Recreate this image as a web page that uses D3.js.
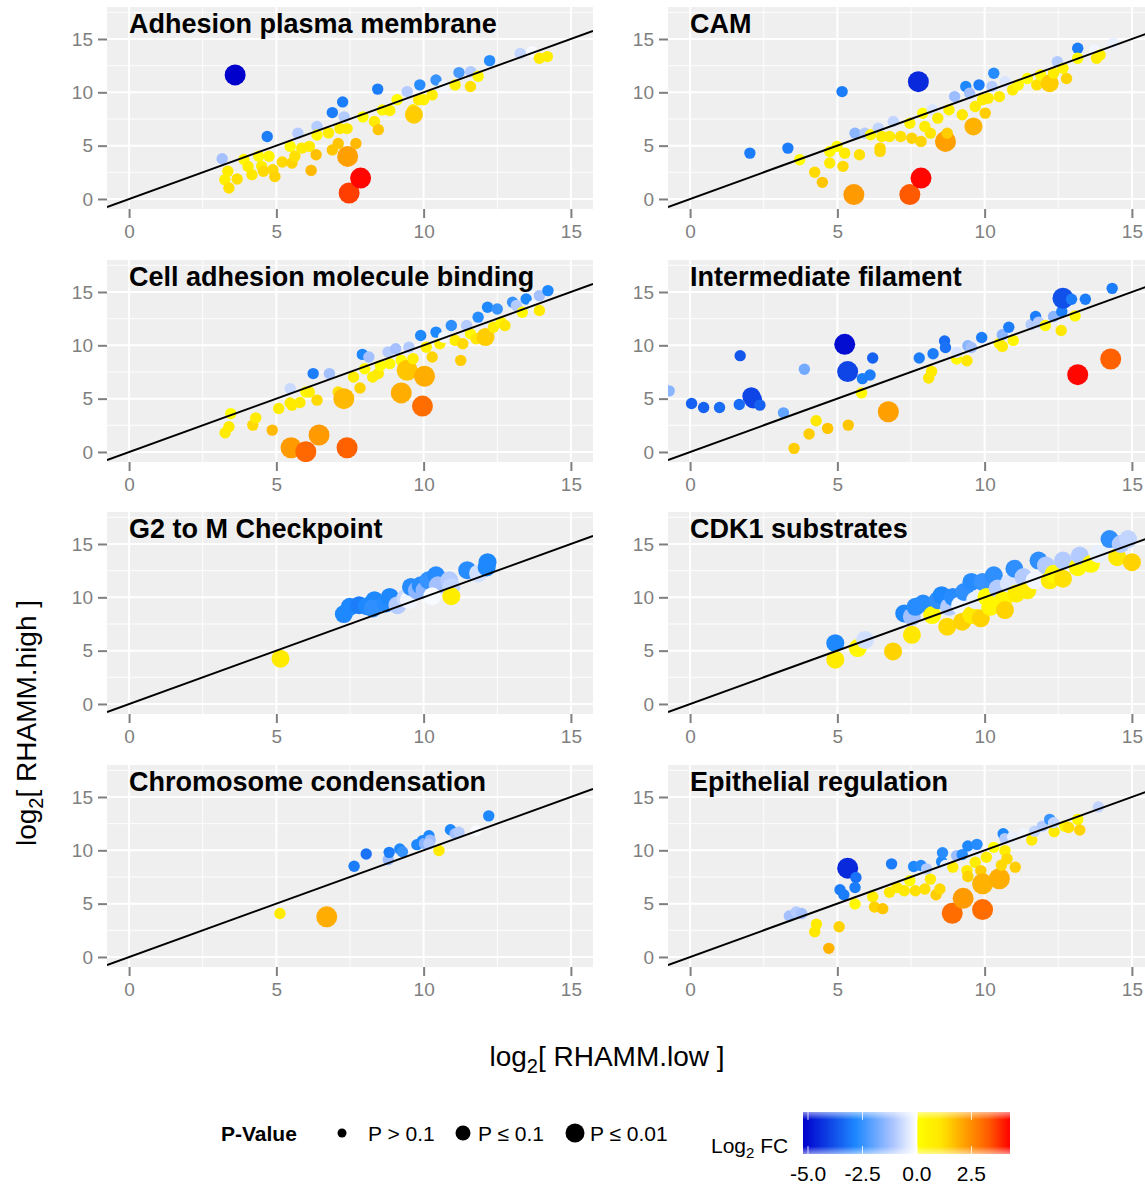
<!DOCTYPE html>
<html>
<head>
<meta charset="utf-8">
<script src="https://cdn.jsdelivr.net/npm/d3@7"></script>
<style>
body { margin: 0; background: #fff; }
text { font-family: "Liberation Sans", Arial, Helvetica, sans-serif; }
</style>
</head>
<body>
<svg id="chart" width="1145" height="1185"></svg>
<script>
// panel titles, in facet order (row by row)
const panelNames = ["Adhesion plasma membrane", "CAM", "Cell adhesion molecule binding",
  "Intermediate filament", "G2 to M Checkpoint", "CDK1 substrates",
  "Chromosome condensation", "Epithelial regulation"];

// each point: [log2 RHAMM.low, log2 RHAMM.high, log2 FC, p-value class]
// p class: 0 = P > 0.1, 1 = P <= 0.1, 2 = P <= 0.01
const adhesionPM = [
  [3.16,3.77,-1.2,0],[3.6,11.63,-5.5,2],[4.69,5.86,-3,0],[3.35,2.6,0.8,0],[3.25,1.8,0.7,0],
  [3.39,1.03,1.2,0],[3.67,1.87,1.2,0],[3.9,3.7,0.3,0],[4.04,3.05,0.8,0],[4.17,2.28,1.0,0],
  [4.4,4.0,0.3,0],[4.5,3.06,0.8,0],[4.56,2.6,1.3,0],[4.75,4.0,0.5,0],[4.88,2.74,1.3,0],
  [4.95,2.1,1.4,0],[5.2,3.46,1.3,0],[5.47,4.93,0.2,0],[5.53,3.37,1.4,0],[5.63,4.0,1.2,0],
  [5.73,6.17,-1,0],[5.86,4.77,0.9,0],[6.12,4.93,0.9,0],[6.18,2.68,1.8,0],[6.35,4.15,1.7,0],
  [6.38,6.8,-1,0],[6.38,6.0,0.3,0],[6.77,6.2,0.8,0],[6.9,4.6,1.6,0],[6.9,8.1,-3,0],
  [7.1,5.2,1.6,0],[7.25,9.1,-3,0],[7.16,6.6,0.9,0],[7.3,7.7,-1,0],[7.4,6.6,0.9,0],
  [7.42,3.99,2.2,2],[7.7,5.2,1.8,0],[7.47,0.56,3.6,2],[7.86,1.96,4.2,2],[7.94,7.7,0.1,0],
  [8.33,7.26,0.9,0],[8.46,6.5,1.6,0],[8.44,10.3,-3,0],[8.6,8.35,0.3,0],[8.85,8.3,0.7,0],
  [9.1,9.3,0.1,0],[9.44,10.07,-1,0],[9.64,8.36,1.0,0],[9.67,7.9,1.5,1],[9.83,9.3,0.9,0],
  [9.87,10.7,-2.7,0],[10.0,9.3,0.6,0],[10.29,9.76,0.8,0],[10.42,11.16,-2.5,0],[10.68,10.6,-0.2,0],
  [11.07,10.7,0.6,0],[11.2,11.85,-2.3,0],[11.59,10.54,1.2,0],[11.6,11.94,-1,0],[11.85,11.5,0.3,0],
  [12.24,12.97,-2.7,0],[13.28,13.65,-0.8,0],[13.67,13.8,-0.1,0],[13.93,13.2,0.9,0],[14.2,13.35,0.8,0]
];
const cam = [
  [2.03,4.3,-3,0],[3.32,4.77,-3,0],[3.72,3.68,0.1,0],[4.23,2.5,1.3,0],[4.49,1.56,1.6,0],
  [4.74,3.37,0.9,0],[4.74,4.46,0.3,0],[4.99,4.93,0.2,0],[5.19,3.06,1.3,0],[5.25,4.3,0.9,0],
  [5.16,10.07,-3,0],[5.56,0.41,2.3,2],[5.6,6.17,-1.5,0],[5.75,4.15,1.2,0],[5.94,6.17,-1,0],
  [6.13,6.02,0.3,0],[6.39,6.64,-0.8,0],[6.45,4.77,1.3,0],[6.45,4.46,1.3,0],[6.51,5.86,0.8,0],
  [6.77,5.86,0.9,0],[6.9,7.27,-0.8,0],[7.15,5.86,1.2,0],[7.46,7.1,0.6,0],[7.53,5.7,1.4,0],
  [7.46,0.41,3.3,2],[7.75,11.0,-4.5,2],[7.84,1.96,4.2,2],[7.84,5.4,1.4,0],[7.9,8.04,0.1,0],
  [7.97,6.8,0.8,0],[8.16,6.17,1.1,0],[8.22,8.36,-0.5,0],[8.41,7.58,0.8,0],[8.67,5.4,2.2,2],
  [8.73,6.17,1.5,0],[8.79,8.36,0.6,0],[8.98,9.6,-1.3,0],[9.24,7.9,1.0,0],[9.36,10.54,-2.8,0],
  [9.49,9.92,-1.2,0],[9.62,6.8,1.9,1],[9.68,8.67,0.9,0],[9.81,10.7,-3,0],[9.93,9.3,0.8,0],
  [10.02,8.05,1.5,0],[10.12,9.45,0.9,0],[10.25,10.54,-1,0],[10.31,11.79,-2.7,0],[10.5,9.6,0.9,0],
  [10.69,11.0,-0.5,0],[10.95,10.23,0.8,0],[11.14,10.7,0.4,0],[11.45,11.3,0.1,0],[11.77,10.7,1.2,0],
  [11.9,11.63,0.2,0],[12.21,10.85,1.5,1],[12.34,11.79,0.8,0],[12.47,12.88,-1,0],[12.78,11.3,1.4,0],
  [12.66,12.25,0.6,0],[13.16,14.13,-3,0],[13.16,13.2,0.2,0],[13.73,13.97,-0.2,0],[13.8,13.2,0.9,0],
  [13.92,13.5,0.8,0],[14.37,14.6,-0.3,0]
];
const camBinding = [
  [3.26,1.8,0.9,0],[3.39,2.37,0.9,0],[3.45,3.6,0,0],[4.2,2.52,1.3,0],[4.3,3.2,0.9,0],
  [4.86,2.05,1.8,0],[5.08,4.08,0.8,0],[5.47,5.94,-0.7,0],[5.53,4.39,0.9,0],[5.47,4.6,0.9,0],
  [5.8,4.64,0.9,0],[6.0,5.63,0.3,0],[6.12,5.63,0.7,0],[5.5,0.4,2.3,2],[6.0,0.03,3.1,2],
  [6.25,7.35,-3,0],[6.38,4.86,1.3,0],[6.45,1.59,2.3,2],[6.8,7.35,-1.2,0],[7.1,5.63,1.2,0],
  [7.29,5.0,1.8,2],[7.4,0.4,3.2,2],[7.62,7.03,0.8,0],[7.84,6.0,1.4,0],[7.92,9.15,-2.8,0],
  [8.14,8.9,-1.2,0],[8.0,7.8,0.2,0],[8.27,7.03,0.8,0],[8.46,7.35,0.9,0],[8.53,8.1,0.1,0],
  [8.79,9.37,-1,0],[8.85,8.28,0.3,0],[9.05,9.68,-1.2,0],[9.24,8.59,0.1,0],[9.24,5.54,2.0,2],
  [9.44,7.66,1.6,2],[9.5,9.83,-1,0],[9.64,8.75,0.8,0],[9.9,10.92,-2.8,0],[9.96,4.3,3.0,2],
  [10.03,7.1,2.0,2],[10.09,9.83,0.6,0],[10.29,8.9,1.4,0],[10.42,11.24,-2.8,0],[10.55,10.15,0.7,0],
  [10.68,10.77,-0.2,0],[10.94,11.86,-2.6,0],[11.07,10.46,0.8,0],[11.26,8.59,1.5,0],[11.33,10.15,1.3,0],
  [11.46,11.86,-1,0],[11.59,11.08,0.3,0],[11.78,10.61,1.1,0],[11.85,12.64,-2.7,0],[12.1,10.77,1.5,1],
  [12.17,13.57,-2.8,0],[12.37,11.7,0.8,0],[12.5,13.41,-2.5,0],[12.63,12.17,0.3,0],[12.76,11.86,1.1,0],
  [13.02,14.04,-2.5,0],[13.15,13.73,-1,0],[13.35,13.1,0.3,0],[13.48,14.35,-2.8,0],[13.74,13.73,-0.1,0],
  [13.93,13.26,0.9,0],[13.93,14.66,-1.2,0],[14.22,15.13,-2.8,0]
];
const intermediateFil = [
  [-0.71,5.73,-1.5,0],[0.05,4.54,-3.5,0],[0.46,4.17,-3.5,0],[1.0,4.17,-3.3,0],[1.67,4.45,-3.3,0],
  [1.7,9.03,-3.7,0],[2.08,5.23,-4,1],[2.14,4.92,-4,1],[2.37,4.39,-3.5,0],[3.17,3.67,-2,0],
  [3.53,0.34,1.5,0],[3.88,7.75,-1.8,0],[4.04,1.68,1.5,0],[4.28,2.93,1.0,0],[4.67,2.21,1.6,0],
  [5.25,10.09,-5,2],[5.35,7.54,-4,2],[5.37,2.52,1.6,0],[5.82,5.54,0.3,0],[5.85,6.88,-3,0],
  [6.11,7.22,-3,0],[6.2,8.81,-3.5,0],[6.73,3.77,2.2,2],[7.78,8.81,-3,0],[8.1,6.94,1.0,0],
  [8.2,7.56,0.9,0],[8.25,9.21,-3,0],[8.64,10.4,-3.3,0],[8.67,9.8,-3.2,0],[9.05,8.72,0.3,0],
  [9.05,9.34,-0.5,0],[9.4,8.56,1.0,0],[9.43,9.96,-1.5,0],[9.55,9.8,-1.2,0],[9.9,10.74,-3,0],
  [10.5,10.18,0.4,0],[10.6,9.9,0.9,0],[10.6,11.0,-1.5,0],[10.82,11.7,-3,0],[10.97,10.46,0.4,0],
  [11.58,11.95,-1,0],[11.73,12.7,-3,0],[11.83,12.17,-1,0],[12.06,11.86,0.3,0],[12.34,12.7,-1.5,0],
  [12.6,11.39,1.0,0],[12.62,13.17,-3,0],[12.66,14.41,-3.8,2],[12.95,14.32,-3,0],[13.07,12.76,0.3,0],
  [13.16,7.25,4.2,2],[13.42,14.32,-3,0],[14.28,8.72,3.2,2],[14.33,15.34,-3,0]
];
const g2mCheckpoint = [
  [5.14,4.25,0.9,1],[7.29,8.43,-2.8,1],[7.49,9.11,-2.8,1],[7.81,9.26,-3,1],[8.07,9.17,-2.8,1],
  [8.33,9.73,-2.8,1],[8.27,8.96,-2.6,1],[8.72,9.42,-2.7,1],[8.85,10.04,-2.8,1],[9.11,9.26,-1,1],
  [9.38,9.92,-0.7,1],[9.5,9.76,-0.2,1],[9.57,10.97,-2.7,1],[9.77,10.66,-1.5,1],[9.9,11.13,-2.7,1],
  [10.03,10.66,-1.5,1],[10.16,11.59,-2.5,1],[10.42,12.06,-2.7,1],[10.48,11.13,-1.2,1],[10.29,10.1,-0.1,1],
  [10.87,11.59,-1,1],[10.94,10.97,-0.8,1],[10.94,10.1,0.8,1],[11.48,12.55,-2.7,1],[11.85,12.24,-0.6,1],
  [12.17,13.3,-2.8,1],[12.14,12.8,-2.8,1]
];
const cdk1Substrates = [
  [4.93,5.7,-2.8,1],[4.93,4.15,0.9,1],[5.69,5.24,0.3,1],[5.94,6.0,-0.6,1],[6.89,4.93,1.4,1],
  [7.27,8.49,-2.8,1],[7.53,6.48,1.0,1],[7.53,8.18,-1.2,1],[7.65,9.11,-2.7,1],[7.91,9.42,-2.7,1],
  [8.22,8.34,0.3,1],[8.41,9.73,-2.6,1],[8.54,10.2,-2.8,1],[8.73,7.25,1.3,1],[8.79,9.11,-1,1],
  [8.92,10.04,-2.7,1],[9.17,9.26,-0.2,1],[9.24,7.72,1.4,1],[9.3,10.5,-2.6,1],[9.55,8.34,0.9,1],
  [9.55,11.44,-2.7,1],[9.68,9.73,-0.3,1],[9.87,8.03,1.4,1],[9.93,11.44,-2.5,1],[10.06,10.04,0,1],
  [10.19,9.11,0.4,1],[10.31,12.06,-2.6,1],[10.44,10.82,-1,1],[10.63,9.73,0.4,1],[10.69,8.8,1.4,1],
  [10.82,11.28,-0.5,1],[11.01,12.68,-2.6,1],[11.07,10.35,0.8,1],[11.32,11.9,-1,1],[11.45,10.66,0.8,1],
  [11.7,11.59,-0.2,1],[11.83,13.45,-2.6,1],[12.08,12.99,-1,1],[12.21,11.59,0.9,1],[12.34,12.2,0.3,1],
  [12.66,11.75,1.2,1],[12.66,13.45,-1,1],[13.16,12.83,0.3,1],[13.23,13.92,-1,1],[13.61,13.14,0.3,1],
  [13.86,14.07,-0.3,1],[14.24,15.46,-2.6,1],[14.5,13.76,1.0,1],[14.62,15.0,-1,1],[14.87,15.46,-0.8,1],
  [15.0,13.3,1.4,1]
];
const chromCondensation = [
  [5.12,4.07,0.9,0],[6.71,3.76,2.0,2],[7.64,8.51,-3,0],[8.05,9.66,-3.2,0],[8.8,9.13,-1.3,0],
  [8.83,9.81,-3,0],[9.19,10.12,-2.8,0],[9.28,9.87,-2.5,0],[9.77,10.53,-2.8,0],[9.96,10.9,-2.8,0],
  [10.03,10.65,-1.5,0],[10.18,11.37,-2.8,0],[10.22,10.96,-1.3,0],[10.18,10.6,-1,0],[10.52,9.98,0.9,0],
  [10.91,11.93,-2.8,0],[11.07,11.55,-1.2,0],[11.2,11.7,-1,0],[11.78,11.83,-0.1,0],[12.21,13.23,-2.8,0]
];
const epithelialReg = [
  [3.37,3.85,-1.2,0],[3.6,4.22,-1,0],[3.79,4.07,-1.2,0],[4.23,2.36,1.0,0],[4.29,3.07,0.9,0],
  [4.71,0.81,1.9,0],[5.06,2.83,1.4,0],[5.09,6.3,-3,0],[5.22,5.84,-3,0],[5.35,8.33,-4.5,2],
  [5.63,7.45,-3.2,0],[5.6,6.52,-3,0],[5.6,4.97,0.3,0],[6.2,5.65,0.8,0],[6.26,4.69,1.4,0],
  [6.54,4.53,1.6,0],[6.77,6.06,1.0,0],[6.84,8.73,-3,0],[7.02,6.52,0.9,0],[7.27,6.21,1.0,0],
  [7.46,7.14,0.1,0],[7.59,8.48,-2.8,0],[7.65,6.21,1.2,0],[7.84,8.57,-2.7,0],[7.97,6.37,1.2,0],
  [8.03,8.26,-1,0],[8.16,7.3,0.9,0],[8.35,5.84,1.5,0],[8.48,6.37,1.3,0],[8.54,8.94,-2.8,0],
  [8.57,9.78,-2.7,0],[8.67,8.57,-0.3,0],[8.9,4.1,3.0,2],[8.92,8.42,0.8,0],[9.05,9.5,-1.3,0],
  [9.24,9.6,-2.7,0],[9.27,5.5,2.3,2],[9.4,8.1,0.9,0],[9.43,7.55,1.4,0],[9.43,10.4,-2.8,0],
  [9.62,9.5,-0.3,0],[9.68,8.88,0.8,0],[9.74,10.56,-2.7,0],[9.87,8.1,1.5,0],[9.93,6.86,1.9,2],
  [9.93,4.44,3.0,2],[10.06,9.35,0.8,0],[10.31,10.28,0,0],[10.5,7.33,2.0,2],[10.57,8.6,1.3,0],
  [10.63,11.55,-2.8,0],[10.69,11.1,-1,0],[10.69,9.97,0.8,0],[10.76,9.2,1.3,0],[11.04,8.42,1.5,0],
  [10.95,11.25,-0.3,0],[11.33,11.55,-0.2,0],[11.6,10.96,0.9,0],[11.7,11.8,-0.8,0],[11.96,12.27,-1,0],
  [12.21,12.9,-2.5,0],[12.36,11.75,0.9,0],[12.34,12.58,-0.8,0],[12.72,12.27,0.4,0],[12.85,12.14,1.2,0],
  [13.16,12.9,0.3,0],[13.23,11.9,1.4,0],[13.86,14.07,-0.8,0]
];
const panelData = [adhesionPM, cam, camBinding, intermediateFil,
  g2mCheckpoint, cdk1Substrates, chromCondensation, epithelialReg];

const axisTicks = [0, 5, 10, 15];
const minorTicksX = [2.5, 7.5, 12.5];
const minorTicksY = [2.5, 7.5, 12.5, 17.5];
const pLabels = ["P > 0.1", "P \u2264 0.1", "P \u2264 0.01"];
const fcTicks = [-5, -2.5, 0, 2.5];
const fcTickLabels = ["-5.0", "-2.5", "0.0", "2.5"];

// ---- layout
const svg = d3.select("#chart");
const colX = [107, 668];
const rowY = [7, 260, 512, 765];
const pw = 486, ph = 202;
const grey = "#7f7f7f";

const x = d3.scaleLinear().domain([-0.75, 15.75]).range([0, pw]);
const y = d3.scaleLinear().domain([-0.94, 18]).range([ph, 0]);
const rad = [5.7, 9, 10.5];

const fcMin = -5.23, fcMax = 4.27;
const colour = d3.scaleLinear()
  .domain([fcMin, -2.8, -1.2, 0, 0, 1.1, 2.2, 3.3, fcMax])
  .range(["#0000cd", "#1e88ff", "#a4c0ff", "#ffffff", "#ffff00", "#ffe600", "#ffa000", "#ff5a00", "#ff0000"])
  .clamp(true);

panelData.forEach((pts, i) => {
  const col = i % 2, row = Math.floor(i / 2);
  const g = svg.append("g").attr("transform", `translate(${colX[col]},${rowY[row]})`);

  g.append("rect").attr("width", pw).attr("height", ph).attr("fill", "#efefef");

  // grid
  g.selectAll(".mx").data(minorTicksX).enter().append("line")
    .attr("x1", d => x(d)).attr("x2", d => x(d)).attr("y1", 0).attr("y2", ph)
    .attr("stroke", "#fff").attr("stroke-width", 0.9);
  g.selectAll(".my").data(minorTicksY).enter().append("line")
    .attr("y1", d => y(d)).attr("y2", d => y(d)).attr("x1", 0).attr("x2", pw)
    .attr("stroke", "#fff").attr("stroke-width", 0.9);
  g.selectAll(".gx").data(axisTicks).enter().append("line")
    .attr("x1", d => x(d)).attr("x2", d => x(d)).attr("y1", 0).attr("y2", ph)
    .attr("stroke", "#fff").attr("stroke-width", 2);
  g.selectAll(".gy").data(axisTicks).enter().append("line")
    .attr("y1", d => y(d)).attr("y2", d => y(d)).attr("x1", 0).attr("x2", pw)
    .attr("stroke", "#fff").attr("stroke-width", 2);

  const clipId = "clip" + i;
  g.append("clipPath").attr("id", clipId).append("rect").attr("width", pw).attr("height", ph);
  const inner = g.append("g").attr("clip-path", `url(#${clipId})`);

  inner.selectAll("circle").data(pts).enter().append("circle")
    .attr("cx", d => x(d[0])).attr("cy", d => y(d[1]))
    .attr("r", d => rad[d[3]])
    .attr("fill", d => colour(d[2]));

  // y = x reference line
  inner.append("line")
    .attr("x1", x(-0.75)).attr("y1", y(-0.75))
    .attr("x2", x(15.75)).attr("y2", y(15.75))
    .attr("stroke", "#000").attr("stroke-width", 2);

  g.append("text").attr("x", x(0)).attr("y", 26)
    .attr("font-size", 27).attr("font-weight", "bold").attr("fill", "#000")
    .text(panelNames[i]);

  // axes
  const ax = g.append("g").attr("transform", `translate(0,${ph})`)
    .call(d3.axisBottom(x).tickValues(axisTicks).tickSize(9).tickPadding(7).tickFormat(d3.format("d")));
  const ay = g.append("g")
    .call(d3.axisLeft(y).tickValues(axisTicks).tickSize(9).tickPadding(5).tickFormat(d3.format("d")));
  [ax, ay].forEach(a => {
    a.select(".domain").remove();
    a.selectAll("line").attr("stroke", grey).attr("stroke-width", 2);
    a.selectAll("text").attr("fill", grey).attr("font-size", 19)
      .style("font-family", "'Liberation Sans', Arial, sans-serif");
  });
});

// axis titles
const xt = svg.append("text").attr("x", 607).attr("y", 1066)
  .attr("text-anchor", "middle").attr("font-size", 28);
xt.append("tspan").text("log");
xt.append("tspan").attr("font-size", 20).attr("dy", 7).text("2");
xt.append("tspan").attr("dy", -7).text("[ RHAMM.low ]");

const yt = svg.append("text").attr("transform", "translate(36,723) rotate(-90)")
  .attr("text-anchor", "middle").attr("font-size", 28);
yt.append("tspan").text("log");
yt.append("tspan").attr("font-size", 20).attr("dy", 7).text("2");
yt.append("tspan").attr("dy", -7).text("[ RHAMM.high ]");

// size legend
const leg = svg.append("g");
leg.append("text").attr("x", 221).attr("y", 1141).attr("font-size", 21)
  .attr("font-weight", "bold").text("P-Value");
const legDotX = [342, 463, 575];
const legLabX = [368, 478, 590];
const legRad = [4.5, 7.5, 9.5];
pLabels.forEach((lab, i) => {
  leg.append("circle").attr("cx", legDotX[i]).attr("cy", 1133).attr("r", legRad[i]).attr("fill", "#000");
  leg.append("text").attr("x", legLabX[i]).attr("y", 1141).attr("font-size", 21).text(lab);
});

// colour bar
const cb = svg.append("g");
const lt = cb.append("text").attr("x", 711).attr("y", 1153).attr("font-size", 21);
lt.append("tspan").text("Log");
lt.append("tspan").attr("font-size", 15).attr("dy", 5).text("2");
lt.append("tspan").attr("dy", -5).text(" FC");

const cbx = d3.scaleLinear().domain([fcMin, fcMax]).range([803, 1010]);
const defs = svg.append("defs");
const grad = defs.append("linearGradient").attr("id", "fcgrad");
const zeroPct = (0 - fcMin) / (fcMax - fcMin) * 100;
d3.range(0, 201).forEach(k => {
  const pct = k / 2;
  let v = fcMin + (fcMax - fcMin) * pct / 100;
  if (pct < zeroPct && v > -0.05) v = -0.001;
  grad.append("stop").attr("offset", pct + "%").attr("stop-color", colour(v));
});
const fade = defs.append("linearGradient").attr("id", "fade").attr("x1", 0).attr("x2", 0).attr("y1", 0).attr("y2", 1);
[[0, 0.55], [0.18, 0], [0.82, 0], [1, 0.55]].forEach(s =>
  fade.append("stop").attr("offset", s[0]).attr("stop-color", "#fff").attr("stop-opacity", s[1]));

cb.append("rect").attr("x", 803).attr("y", 1112).attr("width", 207).attr("height", 42).attr("fill", "url(#fcgrad)");
cb.append("rect").attr("x", 803).attr("y", 1112).attr("width", 207).attr("height", 42).attr("fill", "url(#fade)");
fcTicks.forEach((t, i) => {
  cb.append("line").attr("x1", cbx(t)).attr("x2", cbx(t)).attr("y1", 1112).attr("y2", 1120)
    .attr("stroke", "#fff").attr("stroke-opacity", 0.8);
  cb.append("line").attr("x1", cbx(t)).attr("x2", cbx(t)).attr("y1", 1146).attr("y2", 1154)
    .attr("stroke", "#fff").attr("stroke-opacity", 0.8);
  cb.append("text").attr("x", cbx(t)).attr("y", 1181).attr("text-anchor", "middle")
    .attr("font-size", 21).text(fcTickLabels[i]);
});
</script>
</body>
</html>
